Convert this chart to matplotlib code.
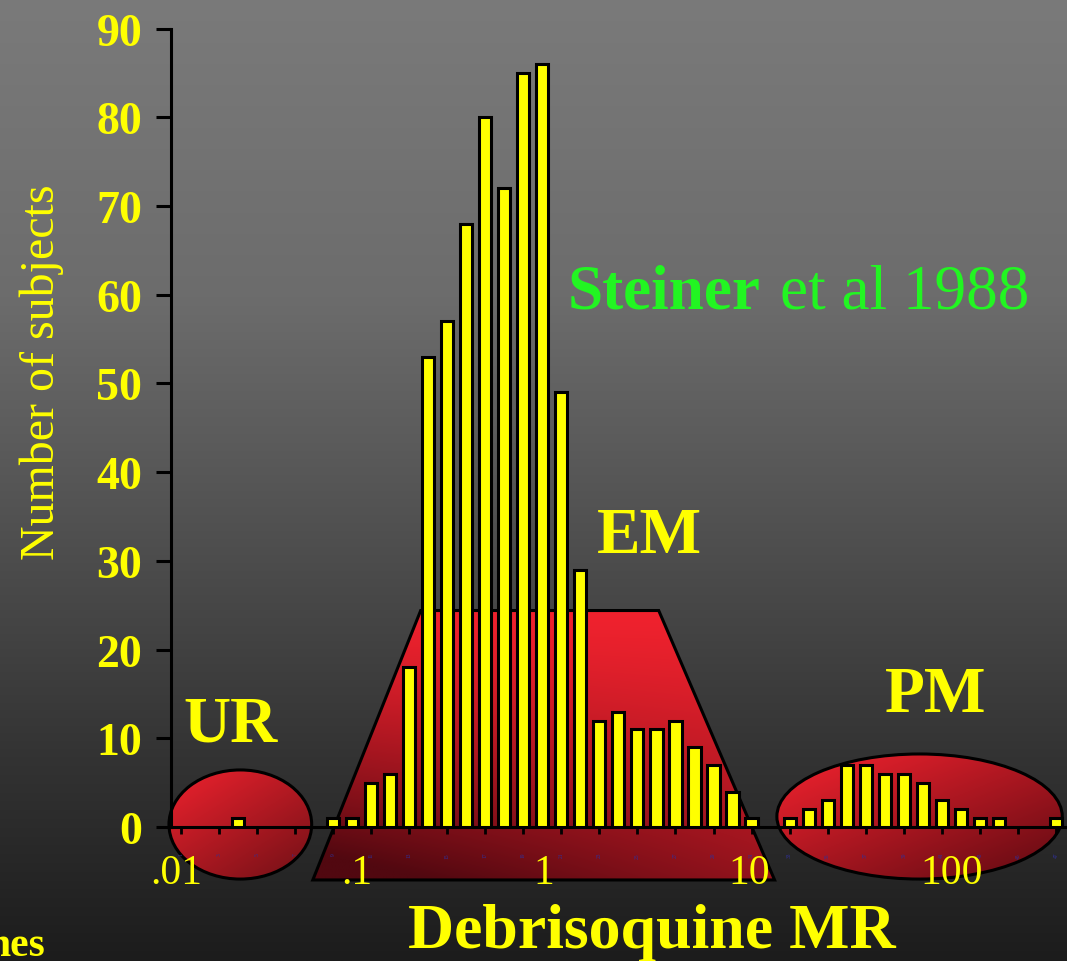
import numpy as np
import matplotlib
matplotlib.use('Agg')
import matplotlib.pyplot as plt
from matplotlib.patches import Ellipse, Polygon
from matplotlib.colors import to_rgb

plt.rcParams['font.family'] = ['Liberation Serif', 'DejaVu Serif']

# histogram: bin index along the (log) MR axis and number of subjects
bin_index = [4, 9, 10, 11, 12, 13, 14, 15, 16, 17, 18, 19, 20, 21, 22, 23, 24, 25, 26, 27, 28, 29, 30, 31,
             33, 34, 35, 36, 37, 38, 39, 40, 41, 42, 43, 44, 47]
n_subjects = [1, 1, 1, 5, 6, 18, 53, 57, 68, 80, 72, 85, 86, 49, 29, 12, 13, 11, 11, 12, 9, 7, 4, 1,
              1, 2, 3, 7, 7, 6, 6, 5, 3, 2, 1, 1, 1]
tick_index = list(range(1, 48, 2))
y_ticks = list(range(0, 100, 10))

# overlaid decade labels of the metabolic ratio
mr_labels = ['.01', '.1', '1', '10', '100']
mr_label_pos = [0.75, 10.25, 20.1, 30.85, 41.5]

YELLOW = '#ffff00'
XLIM = (0.5, 47.5)
YLIM = (0, 90)
rect = [0.1605, 0.1393, 0.8381, 0.8300]

fig = plt.figure(figsize=(10.67, 9.62), dpi=100)

# background axes covering the whole figure, same data coords as the chart
bg = fig.add_axes([0, 0, 1, 1], zorder=0)
sx = (XLIM[1] - XLIM[0]) / rect[2]
sy = (YLIM[1] - YLIM[0]) / rect[3]
bx = (XLIM[0] - rect[0] * sx, XLIM[0] + (1 - rect[0]) * sx)
by = (YLIM[0] - rect[1] * sy, YLIM[0] + (1 - rect[1]) * sy)
bg.axis('off')

rows = np.linspace(0, 1, 400)
levels = np.interp(rows, [0, .31, .47, .62, .78, 1], [122, 108, 90, 72, 52, 28]) / 255
grad = np.repeat(levels[:, None], 2, axis=1)
bg.imshow(np.dstack([grad] * 3), extent=[bx[0], bx[1], by[0], by[1]], aspect='auto',
          interpolation='bilinear', zorder=0)


def shaded(patch, bounds, tfunc, light='#f0222e', dark='#600a12'):
    bg.add_patch(patch)
    x0, x1, y0, y1 = bounds
    u = np.linspace(0, 1, 200)[None, :]
    v = np.linspace(0, 1, 200)[:, None]
    t = np.clip(tfunc(u, v), 0, 1)
    c0 = np.array(to_rgb(light))
    c1 = np.array(to_rgb(dark))
    img = c0 + (c1 - c0) * t[..., None]
    im = bg.imshow(img, extent=[x0, x1, y0, y1], aspect='auto', interpolation='bilinear', zorder=2)
    im.set_clip_path(patch)
    patch.set_facecolor('none')
    patch.set_edgecolor('black')
    patch.set_linewidth(2.2)
    patch.set_zorder(3)


# UR ellipse
cx, cy, w, h = 4.13, 0.28, 7.5, 12.3
shaded(Ellipse((cx, cy), w, h), (cx - w / 2, cx + w / 2, cy - h / 2, cy + h / 2),
       lambda u, v: 0.45 * u + 0.55 * v, dark='#701016')
# EM trapezoid
trap = [(7.94, -5.97), (32.21, -5.97), (26.12, 24.4), (13.61, 24.4)]
shaded(Polygon(trap, closed=True), (7.94, 32.21, -5.97, 24.4),
       lambda u, v: 1.15 * v ** 1.3 * (1 - 0.5 * u), dark='#520810')
# PM ellipse
cx, cy, w, h = 39.83, 1.18, 15.0, 14.1
shaded(Ellipse((cx, cy), w, h), (cx - w / 2, cx + w / 2, cy - h / 2, cy + h / 2),
       lambda u, v: 0.55 * u + 0.6 * v - 0.05, dark='#6a0c14')

bg.set_xlim(bx)
bg.set_ylim(by)

# main chart
ax = fig.add_axes(rect, zorder=1)
ax.set_facecolor('none')
ax.bar(bin_index, n_subjects, width=0.64, color=YELLOW, edgecolor='black', linewidth=2.2, zorder=3)
ax.set_xlim(XLIM)
ax.set_ylim(YLIM)

for s in ['top', 'right']:
    ax.spines[s].set_visible(False)
for s in ['left', 'bottom']:
    ax.spines[s].set_linewidth(2.2)

ax.set_yticks(y_ticks)
ax.set_yticklabels([str(v) for v in y_ticks], fontsize=33, fontweight='bold', color=YELLOW)
ax.tick_params(axis='y', direction='out', length=11, width=2.2, pad=10)
ax.set_xticks(tick_index)
ax.set_xticklabels([str(i) for i in tick_index], rotation=90, fontsize=4, color='#30309a')
ax.tick_params(axis='x', direction='out', length=5, width=2, pad=13)

ax.set_ylabel('Number of subjects', fontsize=34.5, color=YELLOW, va='center')
ax.yaxis.set_label_coords(-0.1446, 0.571)
ax.set_xlabel('Debrisoquine MR', fontsize=46, fontweight='bold', color=YELLOW)
ax.xaxis.set_label_coords(0.5376, -0.1503)
ax.xaxis.label.set_va('baseline')

for lab, pos in zip(mr_labels, mr_label_pos):
    ax.text(pos, -6.3, lab, ha='center', va='baseline', fontsize=30, color=YELLOW, clip_on=False)

ax.text(3.6, 9.8, 'UR', ha='center', va='baseline', fontsize=47, fontweight='bold', color=YELLOW)
ax.text(25.65, 31.0, 'EM', ha='center', va='baseline', fontsize=47, fontweight='bold', color=YELLOW)
ax.text(40.7, 13.07, 'PM', ha='center', va='baseline', fontsize=47, fontweight='bold', color=YELLOW)

ax.text(21.34, 58.5, 'Steiner', ha='left', va='baseline', fontsize=45.5, fontweight='bold', color='#22f522')
ax.text(32.48, 58.5, 'et al 1988', ha='left', va='baseline', fontsize=45.5, color='#22f522')

fig.text(46 / 1067, 1 - 956 / 962, 'nes', ha='right', va='baseline', fontsize=30,
         fontweight='bold', color=YELLOW)

fig.savefig('out.png', dpi=100)
